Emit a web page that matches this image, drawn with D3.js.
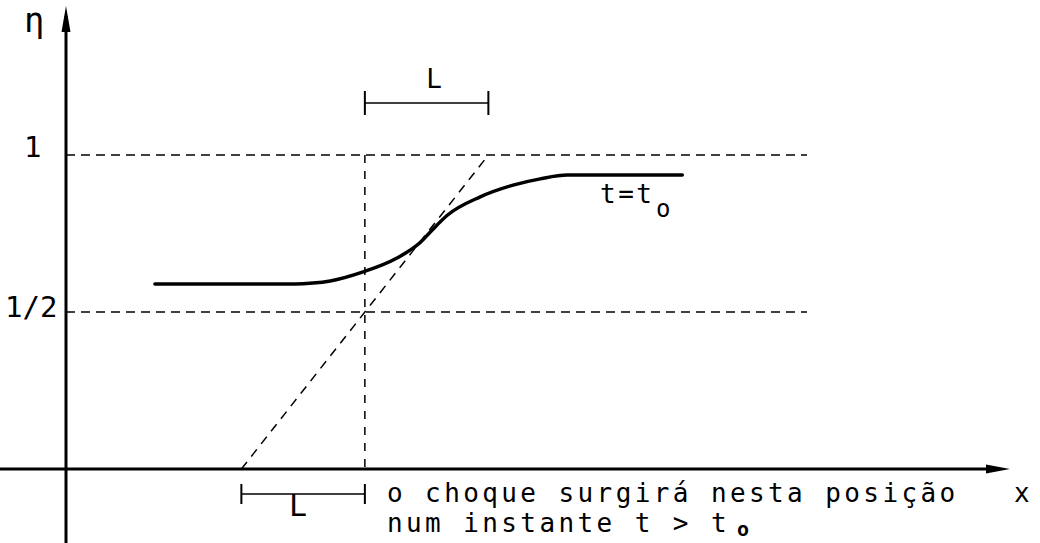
<!DOCTYPE html>
<html>
<head>
<meta charset="utf-8">
<script src="https://cdn.jsdelivr.net/npm/d3@7"></script>
<style>
  html, body { margin: 0; padding: 0; background: #fff; }
  svg { display: block; }
  text { font-family: "DejaVu Sans Mono", monospace; fill: #000; }
</style>
</head>
<body>
<div id="chart"></div>
<script>
// profile eta(x) at t = t0
const curveX   = [0.72, 1.85, 2.00, 2.14, 2.40, 2.68, 2.87, 2.95, 3.09, 3.35, 3.62, 3.84, 4.06, 4.32, 4.99];
const curveEta = [0.589, 0.589, 0.592, 0.599, 0.627, 0.672, 0.722, 0.755, 0.809, 0.866, 0.904, 0.924, 0.936, 0.936, 0.936];

const levelValues = [0.5, 1];
const levelLabels = ["1/2", "1"];

const shockX = 2.42;   // where the tangent crosses eta = 1/2
const lenL = 1;        // the length L
const dashEnd = 6;     // right end of the dashed level lines

const width = 1040, height = 543;

const x = d3.scaleLinear().domain([0, 8]).range([66, 1054]);
const y = d3.scaleLinear().domain([0, 1]).range([469, 155]);

const svg = d3.select("#chart").append("svg")
    .attr("width", width)
    .attr("height", height);

// dashed helper lines
const dash = svg.append("g")
    .attr("stroke", "#000")
    .attr("stroke-width", 1.5)
    .attr("stroke-dasharray", "9,6")
    .attr("fill", "none");

dash.selectAll("line.level")
    .data(levelValues)
    .join("line")
    .attr("class", "level")
    .attr("x1", x(0)).attr("x2", x(dashEnd))
    .attr("y1", d => y(d)).attr("y2", d => y(d));

dash.append("line")
    .attr("stroke-dasharray", "8,8")
    .attr("x1", x(shockX)).attr("x2", x(shockX))
    .attr("y1", y(1)).attr("y2", y(0));

dash.append("line")
    .attr("stroke-dasharray", "9,7")
    .attr("x1", x(shockX - lenL)).attr("y1", y(0))
    .attr("x2", x(shockX + lenL)).attr("y2", y(1));

// axes
const axes = svg.append("g").attr("stroke", "#000").attr("fill", "#000");
const xEnd = x.invert(1010), yTop = y.invert(6);

axes.append("line")
    .attr("x1", 0).attr("x2", x(xEnd) - 10)
    .attr("y1", y(0)).attr("y2", y(0))
    .attr("stroke-width", 3);
axes.append("path")
    .attr("d", `M${x(xEnd)},${y(0)} L${x(xEnd) - 24},${y(0) - 4.5} L${x(xEnd) - 24},${y(0) + 4.5} Z`)
    .attr("stroke", "none");

axes.append("line")
    .attr("x1", x(0)).attr("x2", x(0))
    .attr("y1", height).attr("y2", y(yTop) + 10)
    .attr("stroke-width", 3);
axes.append("path")
    .attr("d", `M${x(0)},${y(yTop)} L${x(0) - 4.5},${y(yTop) + 26} L${x(0) + 4.5},${y(yTop) + 26} Z`)
    .attr("stroke", "none");

// level labels on the eta axis
svg.append("g")
    .selectAll("text")
    .data(levelValues)
    .join("text")
    .attr("x", (d, i) => i === 1 ? 24 : 5)
    .attr("y", d => y(d) + (d === 1 ? 2 : 5))
    .attr("font-size", 29)
    .text((d, i) => levelLabels[i]);

svg.append("text")
    .attr("x", 24).attr("y", 32)
    .attr("font-size", 34)
    .text("η");

svg.append("text")
    .attr("x", 1014).attr("y", 502)
    .attr("font-size", 26)
    .text("x");

// the profile
const line = d3.line()
    .x(d => x(d[0]))
    .y(d => y(d[1]))
    .curve(d3.curveMonotoneX);

svg.append("path")
    .datum(d3.zip(curveX, curveEta))
    .attr("d", line)
    .attr("fill", "none")
    .attr("stroke", "#000")
    .attr("stroke-width", 3.5)
    .attr("stroke-linecap", "round");

const tLabel = svg.append("text")
    .attr("x", 600).attr("y", 203)
    .attr("font-size", 26)
    .attr("letter-spacing", 2.5);
tLabel.append("tspan").text("t=t");
tLabel.append("tspan").attr("x", 656).attr("y", 217).attr("font-size", 24).text("o");

// L brackets
function bracket(x0, x1, yy, h) {
    const g = svg.append("g").attr("stroke", "#000");
    g.append("line").attr("x1", x(x0)).attr("x2", x(x1)).attr("y1", yy).attr("y2", yy).attr("stroke-width", 1.5);
    g.selectAll("line.end")
        .data([x0, x1])
        .join("line")
        .attr("class", "end")
        .attr("x1", d => x(d)).attr("x2", d => x(d))
        .attr("y1", yy - h / 2).attr("y2", yy + h / 2)
        .attr("stroke-width", 2);
}
bracket(shockX, shockX + lenL, 103, 24);
bracket(shockX - lenL, shockX, 494, 20);

svg.append("text")
    .attr("x", 434).attr("y", 88)
    .attr("text-anchor", "middle")
    .attr("font-size", 26)
    .text("L");

svg.append("text")
    .attr("x", 289).attr("y", 516)
    .attr("font-size", 30)
    .text("L");

// note on the shock
const note = svg.append("g")
    .attr("font-size", 26)
    .attr("letter-spacing", 3.4);
note.append("text").attr("x", 387).attr("y", 502).text("o choque surgirá nesta posição");
const note2 = note.append("text").attr("x", 387).attr("y", 532);
note2.append("tspan").text("num instante t > t");
note2.append("tspan").attr("x", 737).attr("y", 536).attr("font-size", 20).attr("font-weight", "bold").text("o");
</script>
</body>
</html>
